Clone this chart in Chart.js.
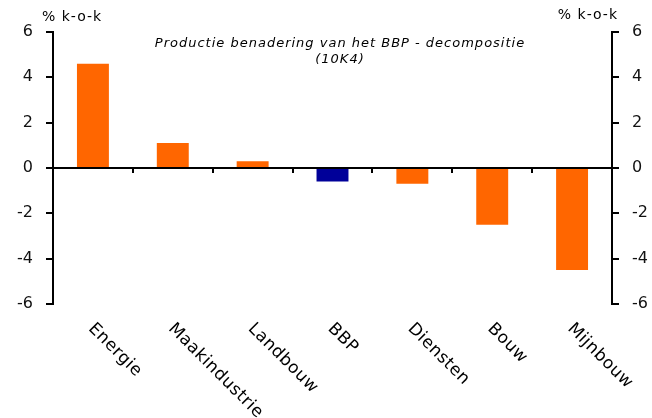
<!DOCTYPE html>
<html>
<head>
<meta charset="utf-8">
<script src="https://cdn.jsdelivr.net/npm/chart.js@4.4.0/dist/chart.umd.min.js"></script>
<style>
  html, body { margin: 0; padding: 0; background: #fff; }
  #myChart { display: block; }
</style>
</head>
<body>
<canvas id="myChart" width="652" height="418"></canvas>
<script>
// data
var categories = ['Energie', 'Maakindustrie', 'Landbouw', 'BBP', 'Diensten', 'Bouw', 'Mijnbouw'];
var values = [4.6, 1.1, 0.3, -0.6, -0.7, -2.5, -4.5];
var barColors = ['#FF6600', '#FF6600', '#FF6600', '#000099', '#FF6600', '#FF6600', '#FF6600'];
var yMin = -6, yMax = 6, yStep = 2;
var unitLabel = '% k-o-k';
var titleLines = ['Productie benadering van het BBP - decompositie', '(10K4)'];

var fontFam = '"DejaVu Sans", Verdana, sans-serif';

// losse teksten: eenheid, titel en de schuine categorielabels
var textPlugin = {
    id: 'texts',
    afterDraw: function(chart) {
        var ctx = chart.ctx;
        var xs = chart.scales.x;
        ctx.save();
        ctx.fillStyle = '#000';
        ctx.letterSpacing = '1px';
        ctx.font = '14px ' + fontFam;
        ctx.textBaseline = 'middle';
        ctx.textAlign = 'left';
        ctx.fillText(unitLabel, 42, 17);
        ctx.textAlign = 'right';
        ctx.fillText(unitLabel, 618, 15);

        ctx.font = 'italic 13px ' + fontFam;
        ctx.textAlign = 'center';
        ctx.fillText(titleLines[0], 340, 44);
        ctx.fillText(titleLines[1], 340, 60);

        ctx.letterSpacing = '0.5px';
        ctx.font = '17px ' + fontFam;
        ctx.textAlign = 'left';
        for (var i = 0; i < categories.length; i++) {
            var px = xs.getPixelForValue(i);
            ctx.save();
            ctx.translate(px - 2, 326);
            ctx.rotate(Math.PI / 4);
            ctx.fillText(categories[i], 0, 0);
            ctx.restore();
        }
        ctx.restore();
    }
};

var ctx = document.getElementById('myChart').getContext('2d');
var myChart = new Chart(ctx, {
    type: 'bar',
    data: {
        labels: categories,
        datasets: [{
            data: values,
            backgroundColor: barColors,
            borderWidth: 0,
            barPercentage: 0.4,
            categoryPercentage: 1,
            yAxisID: 'y'
        }]
    },
    options: {
        responsive: false,
        animation: false,
        layout: { padding: { top: 32, bottom: 114, left: 0, right: 0 } },
        plugins: {
            legend: { display: false },
            tooltip: { enabled: false }
        },
        scales: {
            x: {
                type: 'category',
                position: { y: 0 },
                ticks: { display: false },
                grid: {
                    offset: true,
                    drawOnChartArea: false,
                    drawTicks: true,
                    tickLength: 4,
                    color: '#000',
                    lineWidth: 2
                },
                border: { color: '#000', width: 2 }
            },
            y: {
                position: 'left',
                min: yMin,
                max: yMax,
                ticks: {
                    stepSize: yStep,
                    color: '#111',
                    padding: 13,
                    font: { family: fontFam, size: 16 }
                },
                grid: {
                    drawOnChartArea: false,
                    drawTicks: true,
                    tickLength: 7,
                    color: '#000',
                    lineWidth: 2
                },
                border: { color: '#000', width: 2 },
                afterFit: function(scale) { scale.width = 53; }
            },
            y2: {
                position: 'right',
                min: yMin,
                max: yMax,
                ticks: {
                    stepSize: yStep,
                    color: '#111',
                    padding: 13,
                    font: { family: fontFam, size: 16 }
                },
                grid: {
                    drawOnChartArea: false,
                    drawTicks: true,
                    tickLength: 7,
                    color: '#000',
                    lineWidth: 2
                },
                border: { color: '#000', width: 2 },
                afterFit: function(scale) { scale.width = 40; }
            }
        }
    },
    plugins: [textPlugin]
});
</script>
</body>
</html>
